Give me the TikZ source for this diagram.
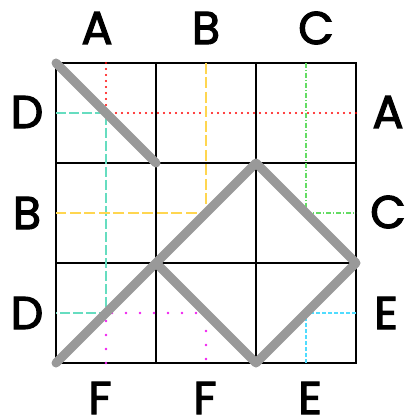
\documentclass[tikz,border=0pt]{standalone}
\usepackage{fontspec}
\setmainfont{Poppins}
\newfontfamily\labfont{Poppins}[FakeBold=2.6]
\usetikzlibrary{calc}
\definecolor{gridgray}{RGB}{153,153,153}
\definecolor{cred}{RGB}{255,0,0}
\definecolor{cteal}{RGB}{102,221,192}
\definecolor{cyellow}{RGB}{255,214,80}
\definecolor{cgreen}{RGB}{100,220,100}
\definecolor{cmagenta}{RGB}{240,30,240}
\definecolor{ccyan}{RGB}{80,220,255}
\tikzset{
  lab/.style={inner sep=0pt, font=\labfont\fontsize{46}{50}\selectfont},
  gridline/.style={black, line width=2pt},
  redpath/.style={cred, line width=2.4pt, line cap=round, dash pattern=on 0pt off 6pt},
  tealpath/.style={cteal, line width=2pt, dash pattern=on 10pt off 3pt},
  yellowpath/.style={cyellow, line width=2pt, dash pattern=on 11pt off 3.5pt},
  greenpath/.style={cgreen, line width=2pt, dash pattern=on 5pt off 2pt on 1pt off 2pt},
  magentapath/.style={cmagenta, line width=2.6pt, line cap=round, dash pattern=on 0pt off 14pt},
  cyanpath/.style={ccyan, line width=2pt, dash pattern=on 4pt off 2pt},
  graypath/.style={gridgray, line width=9pt, line cap=round, line join=round}
}
\begin{document}
\begin{tikzpicture}[x=1pt,y=-1pt]
\useasboundingbox (0,0) rectangle (407,419);
\foreach \i in {0,...,6}{
  \foreach \j in {0,...,6}{
    \coordinate (p\i\j) at ({56+50*\i},{63+50*\j});
  }
}
% grid
\draw[gridline] (p00) rectangle (p66);
\draw[gridline] (p20) -- (p26);
\draw[gridline] (p40) -- (p46);
\draw[gridline] (p02) -- (p62);
\draw[gridline] (p04) -- (p64);
% coloured connections
\draw[redpath] (p10) -- (p11) -- (p61);
\draw[tealpath] (p01) -- (p11) -- (p15) -- (p05);
\draw[yellowpath] (p30) -- (p33) -- (p03);
\draw[greenpath] (p50) -- (p53) -- (p63);
\draw[magentapath] (p16) -- (p15) -- (p35) -- (p36);
\draw[cyanpath] (p65) -- (p55) -- (p56);
% gray path
\draw[graypath] (p00) -- (p22);
\draw[graypath] (p06) -- (p24) -- (p42) -- (p64) -- (p46) -- (p24);
% labels
\node[lab] (tA) at (97,28) {A};
\node[lab] (tB) at (206,28) {B};
\node[lab] (tC) at (316,28) {C};
\node[lab] (lD1) at (27,112) {D};
\node[lab] (lB) at (27,213) {B};
\node[lab] (lD2) at (27,313) {D};
\node[lab] (rA) at (388,112) {A};
\node[lab] (rC) at (388,212) {C};
\node[lab] (rE) at (386,313) {E};
\node[lab] (bF1) at (100,398) {F};
\node[lab] (bF2) at (205,398) {F};
\node[lab] (bE) at (310,398) {E};
\end{tikzpicture}
\end{document}
